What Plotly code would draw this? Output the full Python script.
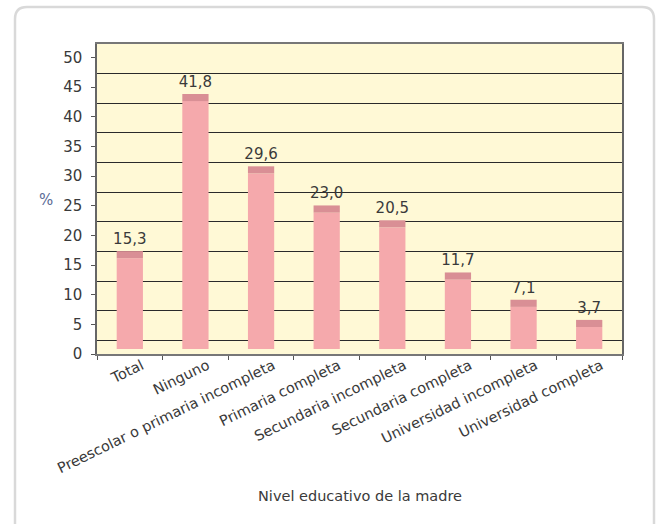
import plotly.graph_objects as go

categories = ["Total", "Ninguno", "Preescolar o primaria incompleta", "Primaria completa",
              "Secundaria incompleta", "Secundaria completa", "Universidad incompleta",
              "Universidad completa"]
values = [15.3, 41.8, 29.6, 23.0, 20.5, 11.7, 7.1, 3.7]
y_ticks = [0, 5, 10, 15, 20, 25, 30, 35, 40, 45, 50]

labels = [f"{v:.1f}".replace(".", ",") for v in values]

# 3D-look styling constants (in value units)
FRONT_BASE = 0.85   # front face of bars sits slightly above the axis
CAP = 1.2           # visible top face of the bars
BACK_SHIFT = 2.28   # back wall (gridlines) shift

FONT = "DejaVu Sans"
TXT = "#3a3a3a"
PINK = "#F5A9AC"
CAPC = "#D98F95"
BG = "#FFF9D6"

W, H = 658, 524
L, R, T, B = 97, 36, 44, 170
pw, ph = W - L - R, H - T - B

fig = go.Figure()
fig.add_trace(go.Bar(x=categories, y=values, base=FRONT_BASE, width=0.4,
                     marker=dict(color=PINK, line=dict(width=0)),
                     hoverinfo="skip", showlegend=False))
fig.add_trace(go.Bar(x=categories, y=[CAP] * len(values),
                     base=[FRONT_BASE + v for v in values], width=0.4,
                     marker=dict(color=CAPC, line=dict(width=0)),
                     text=labels, textposition="outside", cliponaxis=False,
                     constraintext="none",
                     textfont=dict(family=FONT, size=15, color=TXT),
                     hoverinfo="skip", showlegend=False))
# invisible trace to anchor gridline axis
fig.add_trace(go.Scatter(x=categories, y=[None] * len(categories), yaxis="y2",
                         mode="markers", showlegend=False, hoverinfo="skip"))

top = (ph) / 5.93

fig.update_layout(
    width=W, height=H,
    margin=dict(l=L, r=R, t=T, b=B, pad=0),
    paper_bgcolor="white", plot_bgcolor=BG,
    barmode="overlay", bargap=0.6,
    font=dict(family=FONT, color=TXT),
    xaxis=dict(type="category", tickson="boundaries", ticks="outside", ticklen=4,
               tickcolor="#555", tickangle=-26, ticklabelshift=12, ticklabelstandoff=-4,
               showline=True, linecolor="#777",
               linewidth=1.5, mirror=True, showgrid=False, automargin=False,
               tickfont=dict(family=FONT, size=14.5, color=TXT)),
    yaxis=dict(range=[0, top], tickvals=y_ticks, ticks="outside", ticklen=4,
               tickcolor="#555", showgrid=False, zeroline=False, showline=True,
               linecolor="#666", linewidth=1.5, mirror=True, automargin=False,
               ticklabelstandoff=6,
               tickfont=dict(family=FONT, size=15, color=TXT)),
    yaxis2=dict(overlaying="y", range=[-BACK_SHIFT, top - BACK_SHIFT], tickvals=y_ticks,
                showticklabels=False, showgrid=True, gridcolor="#2a2a2a", gridwidth=1,
                zeroline=False, showline=False, ticks="", automargin=False),
    annotations=[
        dict(text="%", xref="paper", yref="paper", x=(46 - L) / pw, y=(H - B - 200) / ph,
             xanchor="center", yanchor="middle",
             showarrow=False, font=dict(family=FONT, size=15, color="#5B6B96")),
        dict(text="Nivel educativo de la madre", xref="paper", yref="paper",
             x=0.5, y=(H - B - 496) / ph, xanchor="center", yanchor="middle",
             showarrow=False, font=dict(family=FONT, size=14.5, color=TXT)),
    ],
)

# rounded outer frame (partially cut at the bottom)
fl, ft, fr, fb, rr = 15, 7, 654, 540, 12
def px(x): return (x - L) / pw
def py(y): return (H - B - y) / ph
path = (f"M {px(fl)} {py(fb)} L {px(fl)} {py(ft + rr)} Q {px(fl)} {py(ft)} {px(fl + rr)} {py(ft)} "
        f"L {px(fr - rr)} {py(ft)} Q {px(fr)} {py(ft)} {px(fr)} {py(ft + rr)} L {px(fr)} {py(fb)}")
fig.add_shape(type="path", path=path, xref="paper", yref="paper",
              line=dict(color="#D9D9D9", width=2.5), layer="below")

fig.write_html("out.html", config={"displayModeBar": False},
               post_script="document.body.style.margin='0';document.body.style.overflow='hidden';")
